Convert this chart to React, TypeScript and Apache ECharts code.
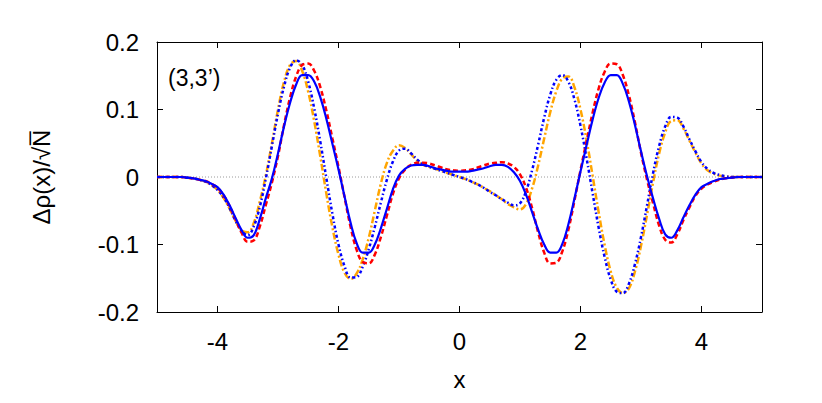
import React, { useEffect, useRef } from "react";
import * as echarts from "echarts";

const xs = [
  -5, -4.9, -4.8, -4.7, -4.6, -4.5, -4.4, -4.3, -4.2, -4.1,
  -4, -3.9, -3.8, -3.7, -3.6, -3.5, -3.4, -3.3, -3.2, -3.1,
  -3, -2.9, -2.8, -2.7, -2.6, -2.5, -2.4, -2.3, -2.2, -2.1,
  -2, -1.9, -1.8, -1.7, -1.6, -1.5, -1.4, -1.3, -1.2, -1.1,
  -1, -0.9, -0.8, -0.7, -0.6, -0.5, -0.4, -0.3, -0.2, -0.1,
  0, 0.1, 0.2, 0.3, 0.4, 0.5, 0.6, 0.7, 0.8, 0.9,
  1, 1.1, 1.2, 1.3, 1.4, 1.5, 1.6, 1.7, 1.8, 1.9,
  2, 2.1, 2.2, 2.3, 2.4, 2.5, 2.6, 2.7, 2.8, 2.9,
  3, 3.1, 3.2, 3.3, 3.4, 3.5, 3.6, 3.7, 3.8, 3.9,
  4, 4.1, 4.2, 4.3, 4.4, 4.5, 4.6, 4.7, 4.8, 4.9, 5,
];

const blueSolid = [
  0, 0, 0, 0, 0,
  -0.001, -0.002, -0.004, -0.006, -0.010, -0.015, -0.026, -0.042, -0.061, -0.079,
  -0.090, -0.086, -0.062, -0.031, -0.002, 0.035, 0.075, 0.110, 0.137, 0.151,
  0.151, 0.141, 0.118, 0.086, 0.049, 0.011, -0.029, -0.068, -0.098, -0.112,
  -0.112, -0.100, -0.076, -0.047, -0.018, 0.002, 0.012, 0.017, 0.018, 0.018,
  0.016, 0.013, 0.011, 0.009, 0.008, 0.008,
  0.008, 0.009, 0.011, 0.013, 0.016, 0.018, 0.018, 0.015, 0.007, -0.006,
  -0.026, -0.052, -0.078, -0.100, -0.112, -0.112, -0.099, -0.070, -0.032, 0.008,
  0.047, 0.085, 0.117, 0.140, 0.151, 0.151, 0.138, 0.112, 0.077, 0.038,
  0.001, -0.032, -0.062, -0.085, -0.090, -0.079, -0.060, -0.042, -0.026, -0.015,
  -0.010, -0.006, -0.003, -0.002, -0.001,
  0, 0, 0, 0, 0,
];

const redDashed = [
  0, 0, 0, 0, 0,
  -0.001, -0.002, -0.004, -0.006, -0.010, -0.016, -0.027, -0.043, -0.063, -0.083,
  -0.096, -0.094, -0.073, -0.041, -0.008, 0.031, 0.077, 0.118, 0.149, 0.166,
  0.168, 0.157, 0.133, 0.098, 0.057, 0.015, -0.030, -0.074, -0.108, -0.126,
  -0.128, -0.115, -0.089, -0.057, -0.025, -0.002, 0.011, 0.018, 0.021, 0.021,
  0.020, 0.017, 0.014, 0.011, 0.010, 0.009,
  0.010, 0.011, 0.014, 0.017, 0.020, 0.021, 0.022, 0.020, 0.015, 0.004,
  -0.016, -0.046, -0.082, -0.112, -0.128, -0.127, -0.110, -0.078, -0.035, 0.010,
  0.053, 0.095, 0.131, 0.156, 0.168, 0.167, 0.151, 0.121, 0.081, 0.036,
  -0.004, -0.039, -0.072, -0.093, -0.097, -0.085, -0.064, -0.045, -0.028, -0.017,
  -0.011, -0.007, -0.004, -0.002, -0.001,
  0, 0, 0, 0, 0,
];

const orangeDashDot = [
  0, 0, 0, 0, 0,
  -0.001, -0.002, -0.004, -0.007, -0.012, -0.019, -0.031, -0.047, -0.065, -0.079,
  -0.082, -0.068, -0.036, 0.003, 0.050, 0.100, 0.141, 0.166, 0.172, 0.157,
  0.126, 0.082, 0.030, -0.025, -0.075, -0.115, -0.142, -0.151, -0.143, -0.122,
  -0.090, -0.050, -0.010, 0.021, 0.039, 0.047, 0.043, 0.034, 0.024, 0.018,
  0.015, 0.012, 0.009, 0.006, 0.003, 0.000,
  -0.003, -0.007, -0.011, -0.016, -0.021, -0.027, -0.033, -0.040, -0.045, -0.048,
  -0.040, -0.017, 0.017, 0.057, 0.096, 0.127, 0.146, 0.149, 0.133, 0.100,
  0.055, 0.002, -0.052, -0.101, -0.140, -0.164, -0.172, -0.165, -0.140, -0.102,
  -0.056, -0.008, 0.035, 0.066, 0.083, 0.084, 0.072, 0.054, 0.036, 0.020,
  0.010, 0.005, 0.002, 0.001, 0.000,
  0, 0, 0, 0, 0,
];

const blueDashDot = [
  0, 0, 0, 0, 0,
  -0.001, -0.002, -0.004, -0.007, -0.012, -0.019, -0.030, -0.046, -0.065, -0.080,
  -0.086, -0.073, -0.044, -0.002, 0.046, 0.094, 0.134, 0.162, 0.173, 0.166,
  0.141, 0.101, 0.052, -0.002, -0.055, -0.100, -0.132, -0.149, -0.148, -0.133,
  -0.107, -0.074, -0.038, -0.004, 0.023, 0.039, 0.042, 0.035, 0.026, 0.019,
  0.015, 0.012, 0.009, 0.006, 0.003, 0.000,
  -0.003, -0.007, -0.011, -0.016, -0.022, -0.027, -0.033, -0.038, -0.042, -0.039,
  -0.021, 0.010, 0.048, 0.088, 0.122, 0.144, 0.151, 0.141, 0.115, 0.076,
  0.028, -0.024, -0.075, -0.119, -0.152, -0.170, -0.172, -0.158, -0.129, -0.089,
  -0.042, 0.006, 0.046, 0.075, 0.089, 0.088, 0.075, 0.056, 0.038, 0.022,
  0.012, 0.006, 0.003, 0.001, 0.000,
  0, 0, 0, 0, 0,
];

const xTickValues = [-4, -2, 0, 2, 4];
const xRange = [-5, 5];
const yRange = [-0.2, 0.2];
const panelLabel = "(3,3\u2019)";
const xTitle = "x";
const yTitle = "\u0394\u03c1(x)/\u221aN\u0305";

const FONT = "Liberation Sans, Arial, Helvetica, sans-serif";

export default function App() {
  const ref = useRef<HTMLDivElement>(null);
  useEffect(() => {
    if (!ref.current) return;
    const chart = echarts.init(ref.current, null, { renderer: "svg" });
    const pairs = (ys: number[]) => xs.map((x, i) => [x, ys[i]]);
    const axisLine = { show: true, onZero: false, lineStyle: { color: "#000", width: 1 } };
    const tick = { show: true, inside: true, length: 6, lineStyle: { color: "#000", width: 1 } };
    const lab = { color: "#000", fontSize: 24, fontFamily: FONT };
    chart.setOption({
      animation: false,
      backgroundColor: "#ffffff",
      grid: { left: 157, right: 60, top: 42, bottom: 91, containLabel: false, outerBoundsMode: "none" },
      xAxis: [
        {
          type: "value", min: xRange[0], max: xRange[1], position: "bottom",
          axisLine, axisTick: { ...tick, customValues: xTickValues },
          axisLabel: { ...lab, margin: 17, customValues: xTickValues },
          splitLine: { show: false },
          name: xTitle, nameLocation: "middle", nameGap: 55,
          nameTextStyle: { ...lab },
        },
        {
          type: "value", min: xRange[0], max: xRange[1], position: "top",
          axisLine, axisTick: { ...tick, customValues: xTickValues },
          axisLabel: { show: false, customValues: xTickValues },
          splitLine: { show: false },
        },
      ],
      yAxis: [
        {
          type: "value", min: yRange[0], max: yRange[1], interval: 0.1, position: "left",
          axisLine, axisTick: tick,
          axisLabel: { ...lab, margin: 18 },
          splitLine: { show: false },
          name: yTitle, nameLocation: "middle", nameGap: 104, nameRotate: 90,
          nameTextStyle: { ...lab },
        },
        {
          type: "value", min: yRange[0], max: yRange[1], interval: 0.1, position: "right",
          axisLine, axisTick: tick, axisLabel: { show: false },
          splitLine: { show: false },
        },
      ],
      graphic: [
        {
          type: "text", x: 168, y: 78,
          style: { text: panelLabel, fontSize: 23, fontFamily: FONT, fill: "#000", textVerticalAlign: "middle", textAlign: "left" },
        },
      ],
      series: [
        {
          name: "zero", type: "line", data: [[xRange[0], 0], [xRange[1], 0]], symbol: "none", silent: true,
          lineStyle: { color: "#9a9a9a", width: 1, type: [1, 2] }, z: 1,
        },
        {
          name: "orange", type: "line", data: pairs(orangeDashDot), symbol: "none", smooth: 0.4,
          lineStyle: { color: "#ffa500", width: 2.5, type: [7, 2.5, 2, 2.5] }, z: 2,
        },
        {
          name: "blue dash-dot", type: "line", data: pairs(blueDashDot), symbol: "none", smooth: 0.4,
          lineStyle: { color: "#0000ff", width: 2.5, type: [3, 2.5, 1.5, 2.5] }, z: 3,
        },
        {
          name: "red", type: "line", data: pairs(redDashed), symbol: "none", smooth: 0.4,
          lineStyle: { color: "#ff0000", width: 2.5, type: [5, 3] }, z: 4,
        },
        {
          name: "blue", type: "line", data: pairs(blueSolid), symbol: "none", smooth: 0.4,
          lineStyle: { color: "#0000ff", width: 2.2, type: "solid" }, z: 5,
        },
      ],
    });
    return () => chart.dispose();
  }, []);
  return <div ref={ref} style={{ position: "fixed", left: 0, top: 0, width: 822, height: 403 }} />;
}
